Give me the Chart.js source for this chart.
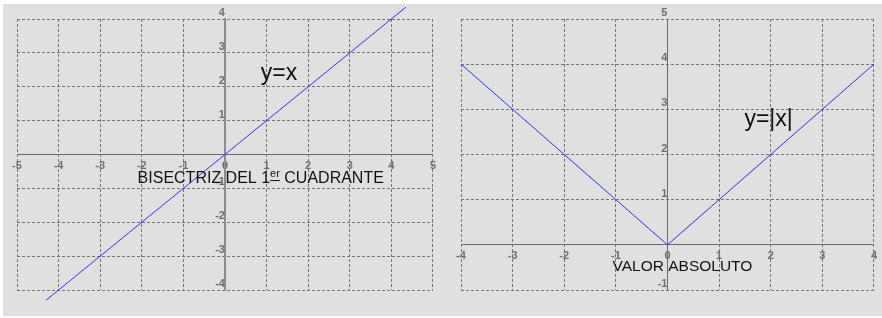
<!DOCTYPE html>
<html>
<head>
<meta charset="utf-8">
<script src="https://cdn.jsdelivr.net/npm/chart.js@4"></script>
<style>
  body { margin: 0; background: #fff; width: 882px; height: 318px; position: relative; overflow: hidden; }
  #bg { position: absolute; left: 3px; top: 4px; width: 879px; height: 312px; background: #e0e0e0; }
  .box { position: absolute; top: 0; width: 441px; height: 318px; }
</style>
</head>
<body>
<div id="bg"></div>
<div class="box" style="left:0"><canvas id="c1" width="441" height="318"></canvas></div>
<div class="box" style="left:441px"><canvas id="c2" width="441" height="318"></canvas></div>
<script>
// left chart: y = x
const bisX = [-4.3, 4.35];
const bisY = [-4.3, 4.35];
const bisXRange = [-5, 5];
const bisYRange = [-4, 4];

// right chart: y = |x|
const absX = [-4, 0, 4];
const absY = [4, 0, 4];
const absXRange = [-4, 4];
const absYRange = [-1, 5];

const tickFont = { family: 'Liberation Sans', size: 11, weight: 'bold' };
const tickColor = '#6e6e6e';
const gridColor = '#747474';
const lineColor = 'rgb(48,48,250)';

// draws the captions, anchored in data units
const textPlugin = {
  id: 'texts',
  afterDatasetsDraw(chart, args, opts) {
    const { ctx, scales: { x, y } } = chart;
    (opts.items || []).forEach((it) => {
      ctx.save();
      ctx.fillStyle = '#111';
      ctx.textBaseline = 'middle';
      ctx.textAlign = 'left';
      let total = 0;
      it.parts.forEach((p) => {
        ctx.font = p.size + 'px "Liberation Sans", Arial, sans-serif';
        p.w = ctx.measureText(p.t).width;
        total += p.w;
      });
      let px = x.getPixelForValue(it.x);
      if (it.align === 'center') px -= total / 2;
      const py = y.getPixelForValue(it.y);
      it.parts.forEach((p) => {
        ctx.font = p.size + 'px "Liberation Sans", Arial, sans-serif';
        const dy = p.dy || 0;
        ctx.fillText(p.t, px, py + dy);
        if (p.u) {
          ctx.fillRect(px, py + dy + p.size / 2 + 1, p.w, 1);
        }
        px += p.w;
      });
      ctx.restore();
    });
  },
};

function makeScales(xr, yr, yBorder) {
  return {
    x: {
      type: 'linear',
      position: { y: 0 },
      min: xr[0],
      max: xr[1],
      ticks: { stepSize: 1, padding: 5, color: tickColor, font: tickFont, maxRotation: 0, autoSkip: false },
      grid: { color: gridColor, lineWidth: 1, drawTicks: false },
      border: { color: '#6a6a6a', width: 1, dash: [3, 2] },
    },
    y: {
      type: 'linear',
      position: { x: 0 },
      min: yr[0],
      max: yr[1],
      ticks: {
        stepSize: 1, padding: 3, labelOffset: -6, color: tickColor, font: tickFont,
        callback: (v) => (v === 0 ? '' : v),
      },
      grid: { color: gridColor, lineWidth: 1, drawTicks: false },
      border: yBorder,
    },
  };
}

function makeChart(id, xs, ys, xr, yr, pad, yBorder, texts) {
  return new Chart(document.getElementById(id), {
    type: 'line',
    data: {
      datasets: [{
        data: xs.map((v, i) => ({ x: v, y: ys[i] })),
        borderColor: lineColor,
        borderWidth: 1,
        pointRadius: 0,
        fill: false,
        tension: 0,
        clip: false,
      }],
    },
    options: {
      responsive: false,
      animation: false,
      devicePixelRatio: 1,
      layout: { padding: pad, autoPadding: false },
      plugins: { legend: { display: false }, tooltip: { enabled: false }, texts: { items: texts } },
      scales: makeScales(xr, yr, yBorder),
    },
    plugins: [textPlugin],
  });
}

makeChart('c1', bisX, bisY, bisXRange, bisYRange,
  { left: 17, right: 7, top: 19, bottom: 28 },
  { color: '#8c8c8c', width: 2, dash: [3, 2] },
  [
    { x: 0.86, y: 2.4, parts: [{ t: 'y=x', size: 23 }] },
    {
      x: 0.86, y: -0.71, align: 'center',
      parts: [
        { t: 'BISECTRIZ DEL 1', size: 16 },
        { t: 'er', size: 11, dy: -5, u: true },
        { t: ' CUADRANTE', size: 16 },
      ],
    },
  ]);

makeChart('c2', absX, absY, absXRange, absYRange,
  { left: 20, right: 3, top: 19, bottom: 28 },
  { color: '#6a6a6a', width: 1, dash: [3, 2] },
  [
    { x: 1.49, y: 2.77, parts: [{ t: 'y=|x|', size: 23 }] },
    { x: 0.29, y: -0.49, align: 'center', parts: [{ t: 'VALOR ABSOLUTO', size: 15.5 }] },
  ]);
</script>
</body>
</html>
